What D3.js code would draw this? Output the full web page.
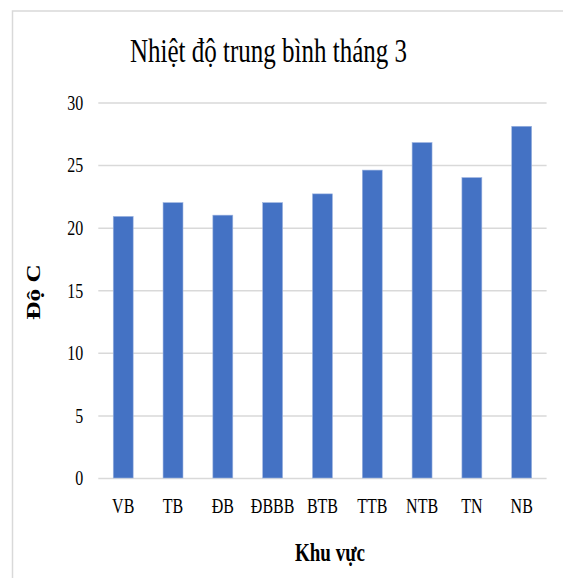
<!doctype html>
<html lang="vi">
<head>
	<meta charset="UTF-8">
	<title>Nhiệt độ trung bình tháng 3</title>
	<script src="https://cdn.jsdelivr.net/npm/d3@7"></script>
	<style>
		body { margin: 0; background: #fff; }
		svg text { font-family: "Liberation Serif", "Times New Roman", serif !important; fill: #000; }
	</style>
</head>
<body>
<div id="container"></div>
<script>
	var width = 563, height = 578;
	// vertical stretch seen in the picture's text
	var sy = 1.33;

	var regions = ["VB", "TB", "ĐB", "ĐBBB", "BTB", "TTB", "NTB", "TN", "NB"];
	var temps = [20.9, 22.0, 21.0, 22.0, 22.7, 24.6, 26.8, 24.0, 28.1];
	var y_ticks = [0, 5, 10, 15, 20, 25, 30];
	var title = "Nhiệt độ trung bình tháng 3";
	var x_title = "Khu vực";
	var y_title = "Độ C";

	var plot = {left: 98.3, right: 546.6, top: 102.5, bottom: 478};

	var scale_x = d3.scaleBand()
			.domain(regions)
			.range([plot.left, plot.right])
			.paddingInner(0.6)
			.paddingOuter(0.3);
	var scale_y = d3.scaleLinear()
			.domain([0, 30])
			.range([plot.bottom, plot.top]);

	var svg = d3.select("#container")
			.append("svg")
			.attr("width", width)
			.attr("height", height);

	svg.append("rect")
			.attr("width", width).attr("height", height)
			.attr("fill", "#fff");

	// chart border (cut off at right and bottom)
	svg.append("rect")
			.attr("x", 12.5).attr("y", 11)
			.attr("width", 700).attr("height", 700)
			.attr("fill", "none")
			.attr("stroke", "#d9d9d9")
			.attr("stroke-width", 1.5);

	// gridlines + y labels
	var y_axis = d3.axisLeft(scale_y)
			.tickValues(y_ticks)
			.tickSize(-(plot.right - plot.left))
			.tickPadding(15);
	var gy = svg.append("g")
			.attr("transform", "translate(" + plot.left + ",0)")
			.call(y_axis)
			.attr("font-family", null);
	gy.select(".domain").remove();
	gy.selectAll(".tick line")
			.attr("stroke", "#d9d9d9")
			.attr("stroke-width", 1.5);
	gy.selectAll(".tick text")
			.style("font-family", "'Liberation Serif'")
			.attr("font-size", 16)
			.attr("dy", "0.32em")
			.attr("transform", function () {
				var x = +d3.select(this).attr("x");
				d3.select(this).attr("x", 0);
				return "translate(" + x + ",0) scale(1," + sy + ")";
			});

	// bars
	svg.append("g")
			.selectAll("rect")
			.data(temps)
			.enter()
			.append("rect")
			.attr("x", function (d, i) { return scale_x(regions[i]); })
			.attr("y", function (d) { return scale_y(d); })
			.attr("width", scale_x.bandwidth())
			.attr("height", function (d) { return plot.bottom - scale_y(d); })
			.attr("fill", "#4472c4")
			.attr("stroke", "#9db4e0")
			.attr("stroke-width", 0.6);

	// x labels
	var x_axis = d3.axisBottom(scale_x).tickSize(0);
	var gx = svg.append("g")
			.attr("transform", "translate(0," + plot.bottom + ")")
			.call(x_axis)
			.attr("font-family", null);
	gx.select(".domain").remove();
	gx.selectAll(".tick text")
			.style("font-family", "'Liberation Serif'")
			.attr("font-size", 16)
			.attr("y", 0)
			.attr("dy", 0)
			.attr("transform", "translate(0,35) scale(1," + sy + ")");

	// titles
	svg.append("text")
			.style("font-family", "'Liberation Serif'")
			.attr("text-anchor", "middle")
			.attr("font-size", 25)
			.attr("transform", "translate(268.5,62) scale(1," + sy + ")")
			.text(title);

	svg.append("text")
			.style("font-family", "'Liberation Serif'")
			.attr("text-anchor", "middle")
			.attr("font-size", 19)
			.attr("font-weight", "bold")
			.attr("transform", "translate(330,561) scale(1," + sy + ")")
			.text(x_title);

	svg.append("text")
			.style("font-family", "'Liberation Serif'")
			.attr("text-anchor", "middle")
			.attr("font-size", 19)
			.attr("font-weight", "bold")
			.attr("transform", "translate(40,292) scale(1," + sy + ") rotate(-90)")
			.text(y_title);
</script>
</body>
</html>
